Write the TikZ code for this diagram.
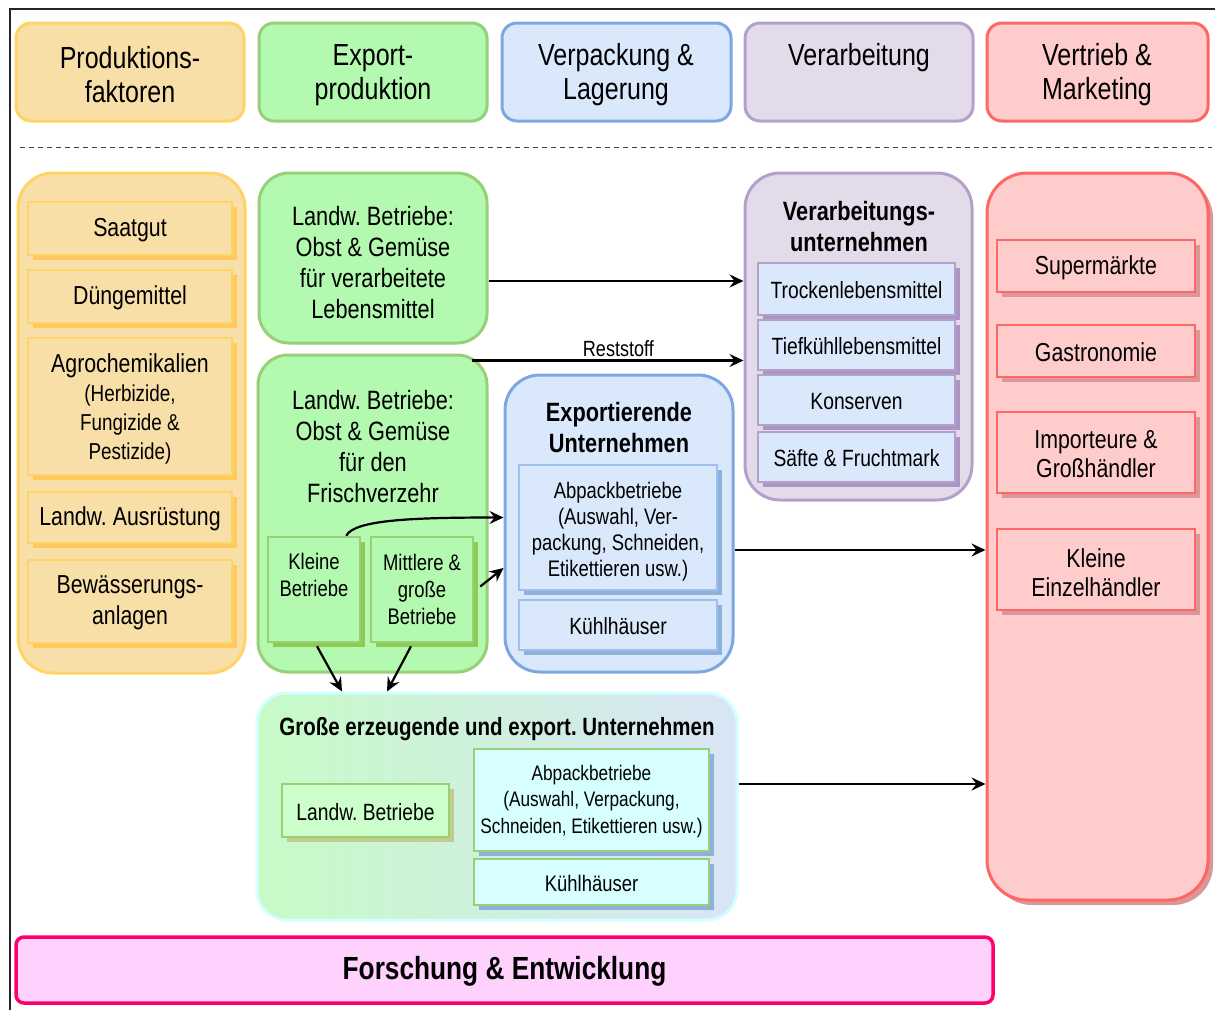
\documentclass[tikz,border=0pt]{standalone}
\usepackage{fontspec}
\setmainfont{Liberation Sans}[FakeStretch=0.82]
\frenchspacing
\usetikzlibrary{shadows,arrows.meta}
\definecolor{orF}{HTML}{F8DFA8}
\definecolor{orS}{HTML}{FFD466}
\definecolor{orSh}{HTML}{FFC95E}
\definecolor{grF}{HTML}{B3F9B0}
\definecolor{grS}{HTML}{97D077}
\definecolor{grSh}{HTML}{8DCB55}
\definecolor{blF}{HTML}{DAE8FC}
\definecolor{blS}{HTML}{7EA6E0}
\definecolor{blIS}{HTML}{9DBFEB}
\definecolor{blSh}{HTML}{8EB0DC}
\definecolor{puF}{HTML}{E3DBEA}
\definecolor{puS}{HTML}{B3A1CB}
\definecolor{puSh}{HTML}{AA95C5}
\definecolor{rdF}{HTML}{FFCCCC}
\definecolor{rdS}{HTML}{FF6666}
\definecolor{rdSh}{HTML}{D99797}
\definecolor{gL}{HTML}{C6FBC6}
\definecolor{gR}{HTML}{D9E4F6}
\definecolor{gS}{HTML}{D2FFFF}
\definecolor{cyF}{HTML}{D7FFFF}
\definecolor{lgF}{HTML}{CCFFCC}
\definecolor{olSh}{HTML}{C4CB8E}
\definecolor{pkF}{HTML}{FFD2FE}
\definecolor{pkS}{HTML}{FF0066}
% empty box: style, name, x1, y1, x2, y2
\newcommand\emptybox[6]{\node[#1, minimum width={(#5)-(#3)}, minimum height={(#6)-(#4)}] (#2) at ({((#3)+(#5))/2},{((#4)+(#6))/2}) {};}
% box with centred text: style, name, x1, y1, x2, y2, text style, text
\newcommand\tbox[8]{\emptybox{#1}{#2}{#3}{#4}{#5}{#6}\node[txt, #7] (#2t) at ([yshift=-1.5pt]#2.center) {#8};}
\tikzset{
  shd/.style={drop shadow={shadow xshift=5pt,shadow yshift=-5pt,fill=#1,opacity=1}},
  base/.style={draw, inner sep=0pt},
  hdr/.style={base, rounded corners=15pt, line width=3pt},
  col/.style={base, rounded corners=35pt, line width=3pt},
  inr/.style={base, line width=2.5pt},
  txt/.style={inner sep=0pt, align=center, text=black},
  arr/.style={line width=2.2pt, -{Stealth[length=14pt,width=13pt,inset=5pt]}},
  fH/.style={font=\fontsize{30.5}{34}\selectfont},
  fA/.style={font=\fontsize{26}{31}\selectfont},
  fR/.style={font=\fontsize{26}{29.5}\selectfont},
  fG/.style={font=\fontsize{26.5}{30.7}\selectfont},
  fS/.style={font=\fontsize{22.5}{27}\selectfont},
  fI/.style={font=\fontsize{23.5}{26}\selectfont},
  fB/.style={font=\bfseries\fontsize{26.5}{31}\selectfont},
}
\begin{document}
\begin{tikzpicture}[x=1pt,y=-1pt]
\useasboundingbox (0,0) rectangle (1215,1010);
% frame
\draw[line width=1.5pt, black!85] (1215,9) -- (10,9) -- (10,1010);
% headers
\emptybox{hdr, fill=orF, draw=orS}{h1}{16}{23}{244}{121}
\emptybox{hdr, fill=grF, draw=grS}{h2}{259}{23}{487}{121}
\emptybox{hdr, fill=blF, draw=blS}{h3}{502}{23}{731}{121}
\emptybox{hdr, fill=puF, draw=puS}{h4}{745}{23}{973}{121}
\emptybox{hdr, fill=rdF, draw=rdS}{h5}{987}{23}{1208}{121}
\node[txt, fH] (h1t) at (130,75) {Produktions-\\faktoren};
\node[txt, fH] (h2t) at (373,75) {Export-\\produktion};
\node[txt, fH] (h3t) at (616,75) {Verpackung \&\\Lagerung};
\node[txt, fH] (h4t) at (859,58) {Verarbeitung};
\node[txt, fH] (h5t) at (1097,75) {Vertrieb \&\\Marketing};
% separator
\draw[line width=1pt, black!75, dash pattern=on 5pt off 4pt] (20,147) -- (1212,147);
% column 1
\emptybox{col, fill=orF, draw=orS}{c1}{18}{173}{245}{673}
\tbox{inr, fill=orF, draw=orS, shd=orSh}{s1}{28}{202}{232}{255}{fA}{Saatgut}
\tbox{inr, fill=orF, draw=orS, shd=orSh}{s2}{28}{270}{232}{323}{fA}{Düngemittel}
\tbox{inr, fill=orF, draw=orS, shd=orSh}{s3}{28}{338}{232}{475}{font=\fontsize{23}{28.7}\selectfont, yshift=-1pt}{{\fontsize{26}{28.7}\selectfont Agrochemikalien}\\(Herbizide,\\Fungizide \&\\Pestizide)}
\tbox{inr, fill=orF, draw=orS, shd=orSh}{s4}{28}{492}{232}{543}{fA}{Landw. Ausrüstung}
\tbox{inr, fill=orF, draw=orS, shd=orSh}{s5}{28}{560}{232}{643}{fA}{Bewässerungs-\\anlagen}
% column 2
\emptybox{col, rounded corners=30pt, fill=grF, draw=grS}{g1}{259}{173}{487}{343}
\node[txt, fG] (g1t) at (373,262.5) {Landw. Betriebe:\\Obst \& Gemüse\\für verarbeitete\\Lebensmittel};
\emptybox{col, rounded corners=30pt, fill=grF, draw=grS}{g2}{258}{355}{487}{672}
\node[txt, fG] (g2t) at (373,446.5) {Landw. Betriebe:\\Obst \& Gemüse\\für den\\Frischverzehr};
\emptybox{inr, fill=grF, draw=grS, shd=grSh}{k1}{268}{537}{360}{642}
\node[txt, fS] (k1t) at (314,575) {Kleine\\Betriebe};
\tbox{inr, fill=grF, draw=grS, shd=grSh}{k2}{371}{537}{473}{642}{fS, yshift=2pt}{Mittlere \&\\große\\Betriebe}
% column 3
\emptybox{col, fill=blF, draw=blS}{e1}{505}{375}{733}{672}
\node[txt, fB] (e1t) at (619,427.5) {Exportierende\\Unternehmen};
\tbox{inr, fill=blF, draw=blIS, shd=blSh}{e2}{519}{465}{717}{590}{font=\fontsize{22.5}{26}\selectfont, yshift=-2.5pt}{Abpackbetriebe\\(Auswahl, Ver-\\packung, Schneiden,\\Etikettieren usw.)}
\tbox{inr, fill=blF, draw=blIS, shd=blSh}{e3}{519}{600}{717}{650}{fI}{Kühlhäuser}
% column 4
\emptybox{col, fill=puF, draw=puS}{v1}{745}{173}{972}{500}
\node[txt, fB] (v1t) at (859,227) {Verarbeitungs-\\unternehmen};
\tbox{inr, fill=blF, draw=puS, shd=puSh}{v2}{758}{263}{955}{315}{fI}{Trockenlebensmittel}
\tbox{inr, fill=blF, draw=puS, shd=puSh}{v3}{758}{320}{955}{370}{fI}{Tiefkühllebensmittel}
\tbox{inr, fill=blF, draw=puS, shd=puSh}{v4}{758}{375}{955}{425}{fI}{Konserven}
\tbox{inr, fill=blF, draw=puS, shd=puSh}{v5}{758}{432}{955}{482}{fI}{Säfte \& Fruchtmark}
% column 5
\emptybox{col, rounded corners=40pt, fill=rdF, draw=rdS, shd=rdSh}{r1}{987}{173}{1208}{900}
\tbox{inr, fill=rdF, draw=rdS, shd=rdSh}{r2}{997}{240}{1195}{292}{fR}{Supermärkte}
\tbox{inr, fill=rdF, draw=rdS, shd=rdSh}{r3}{997}{325}{1195}{377}{fR}{Gastronomie}
\tbox{inr, fill=rdF, draw=rdS, shd=rdSh}{r4}{997}{412}{1195}{493}{fR}{Importeure \&\\Großhändler}
\tbox{inr, fill=rdF, draw=rdS, shd=rdSh}{r5}{997}{529}{1195}{610}{fR, yshift=-1.5pt}{Kleine\\Einzelhändler}
% bottom big box
\emptybox{base, rounded corners=30pt, line width=3pt, left color=gL, right color=gR, draw=gS}{b1}{257}{693}{737}{920}
\node[txt, font=\bfseries\fontsize{25}{28}\selectfont] (b1t) at (497,729) {Große erzeugende und export. Unternehmen};
\tbox{inr, fill=lgF, draw=grS, shd=olSh}{b2}{282}{784}{449}{837}{font=\fontsize{23.5}{26}\selectfont}{Landw. Betriebe}
\tbox{inr, fill=cyF, draw=grS, shd=blSh}{b3}{474}{749}{709}{851}{font=\fontsize{21}{26.5}\selectfont}{Abpackbetriebe\\(Auswahl, Verpackung,\\Schneiden, Etikettieren usw.)}
\tbox{inr, fill=cyF, draw=grS, shd=blSh}{b4}{474}{859}{709}{905}{font=\fontsize{22.5}{26}\selectfont}{Kühlhäuser}
% research
\tbox{base, rounded corners=8pt, line width=3.5pt, fill=pkF, draw=pkS}{f1}{16}{937}{993}{1003}{font=\bfseries\fontsize{32}{36}\selectfont}{Forschung \& Entwicklung}
% arrows
\draw[arr] ([yshift=-23pt]g1.east) -- ([yshift=-23pt]g1.east -| v1.west);
\coordinate (rs) at ([xshift=-17pt,yshift=-7pt]g2.north east);
\draw[arr] (rs) -- node[pos=0.54, above=3pt, txt, font=\fontsize{22}{24}\selectfont] (rsl) {Reststoff} (rs -| v1.west);
\draw[arr] ([xshift=-15pt]k1.north east) .. controls +(8,-16) and +(-90,0) .. ([yshift=6pt]e1.west);
\draw[arr] ([xshift=6pt,yshift=3pt]k2.east) -- ([yshift=-44.5pt]e1.west);
\draw[arr] ([yshift=-26.5pt]e1.east) -- ([yshift=-26.5pt]e1.east -| r1.west);
\draw[arr] ([xshift=3pt,yshift=-3pt]k1.south) -- ([xshift=-155pt]b1.north);
\draw[arr] ([xshift=-11pt,yshift=-3pt]k2.south) -- ([xshift=-110pt]b1.north);
\draw[arr] ([yshift=22.5pt]b1.east) -- ([yshift=22.5pt]b1.east -| r1.west);
\end{tikzpicture}
\end{document}
